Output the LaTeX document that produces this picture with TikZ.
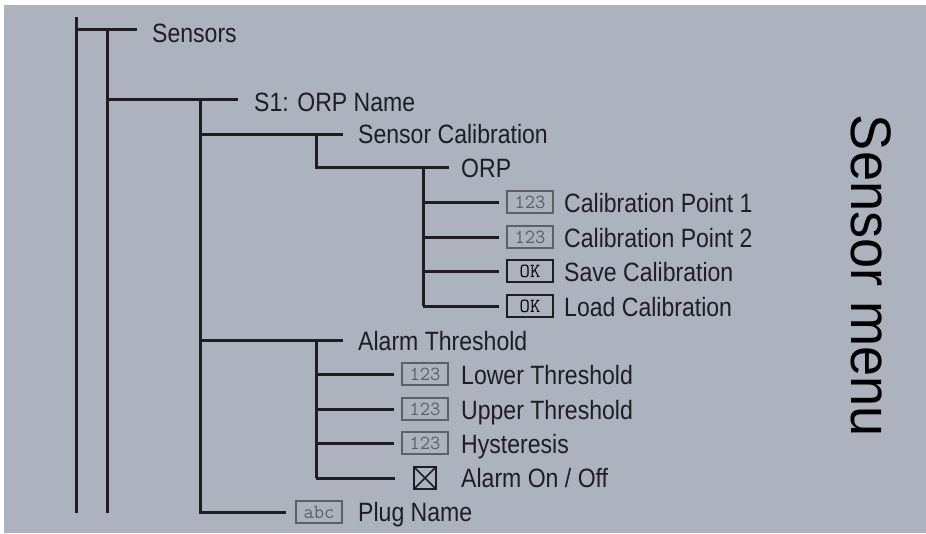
\documentclass[tikz,border=0pt]{standalone}
\usepackage{fontspec}
\setmainfont[FakeStretch=0.87]{Liberation Sans}
\newfontfamily\titlefont[FakeStretch=0.95]{Liberation Sans}
\definecolor{panel}{RGB}{173,178,191}
\definecolor{ink}{RGB}{30,30,34}
\definecolor{boxgray}{RGB}{95,95,102}

\tikzset{
  branch/.style={line width=3pt, draw=ink},
  entry/.style={anchor=base west, inner sep=0pt, text=ink,
    font=\fontsize{26.5}{30}\selectfont},
  numbox/.style={draw=boxgray, line width=1.5pt, minimum width=46pt,
    minimum height=22pt, inner sep=0pt, text=boxgray,
    font=\ttfamily\fontsize{20}{20}\selectfont},
  okbox/.style={numbox, draw=ink, text=black},
  checkbox/.style={draw=ink, line width=1.5pt, minimum size=22pt, inner sep=0pt,
    path picture={
      \draw[ink, line width=1.5pt]
        (path picture bounding box.north west) -- (path picture bounding box.south east)
        (path picture bounding box.north east) -- (path picture bounding box.south west);
    }}
}

\begin{document}
\begin{tikzpicture}[x=1pt, y=-1pt]
  \useasboundingbox (0,0) rectangle (926,533);
  \fill[panel] (4,5) rectangle (926,533);

  % rails and junctions
  \coordinate (rail1) at (76,17);
  \coordinate (rail2) at (107,29);
  \coordinate (s1rail) at (200,99);
  \coordinate (calrail) at (316,134);
  \coordinate (orprail) at (423,167);
  \coordinate (alarmrail) at (316,340);
  \coordinate (bottom) at (0,513);

  \node[entry] (sensors) at (152,42) {Sensors};
  \node[entry] (s1) at (254,111) {S1: ORP Name};
  \node[entry] (sencal) at (358,143) {Sensor Calibration};
  \node[entry] (orp) at (461,177) {ORP};

  \node[numbox] (cp1box) at (530,202) {123};
  \node[entry] (cp1) at (564,212) {Calibration Point 1};
  \node[numbox] (cp2box) at (530,237) {123};
  \node[entry] (cp2) at (564,247) {Calibration Point 2};
  \node[okbox] (savebox) at (530,271) {OK};
  \node[entry] (save) at (564,281) {Save Calibration};
  \node[okbox] (loadbox) at (530,306) {OK};
  \node[entry] (load) at (564,316) {Load Calibration};

  \node[entry] (alarm) at (358,350) {Alarm Threshold};
  \node[numbox] (lowbox) at (425,374) {123};
  \node[entry] (low) at (461,384) {Lower Threshold};
  \node[numbox] (upbox) at (425,409) {123};
  \node[entry] (up) at (461,419) {Upper Threshold};
  \node[numbox] (hystbox) at (425,443) {123};
  \node[entry] (hyst) at (461,453) {Hysteresis};
  \node[checkbox] (onoffbox) at (425,478) {};
  \node[entry] (onoff) at (461,487) {Alarm On / Off};

  \node[numbox] (plugbox) at (319,512) {abc};
  \node[entry] (plug) at (358,521) {Plug Name};

  \node[rotate=-90, text=black, font=\titlefont\fontsize{57}{60}\selectfont]
    (title) at (871,276) {Sensor menu};

  \draw[branch] (rail1) -- (rail1 |- bottom);
  \draw[branch] (rail2) -- (rail2 |- bottom);
  \draw[branch, shorten >=15pt] (rail1 |- rail2) -- (rail2 -| sensors.west);
  \draw[branch, shorten >=16pt] (rail2 |- s1rail) -- (s1rail -| s1.west);
  \draw[branch, shorten >=9pt] (s1rail) |- (plugbox.west);

  \draw[branch, shorten >=15pt] (s1rail |- calrail) -- (calrail -| sencal.west);
  \draw[branch, shorten >=12pt] (calrail) |- (orprail -| orp.west);
  \draw[branch] (orprail) -- (orprail |- loadbox);
  \foreach \b in {cp1box,cp2box,savebox,loadbox}
    \draw[branch, shorten >=7pt] (orprail |- \b) -- (\b.west);

  \draw[branch, shorten >=15pt] (s1rail |- alarmrail) -- (alarmrail -| alarm.west);
  \draw[branch] (alarmrail) -- (alarmrail |- onoffbox);
  \foreach \b in {lowbox,upbox,hystbox}
    \draw[branch, shorten >=7pt] (alarmrail |- \b) -- (\b.west);
  \draw[branch, shorten >=18pt] (alarmrail |- onoffbox) -- (onoffbox.west);
\end{tikzpicture}
\end{document}
